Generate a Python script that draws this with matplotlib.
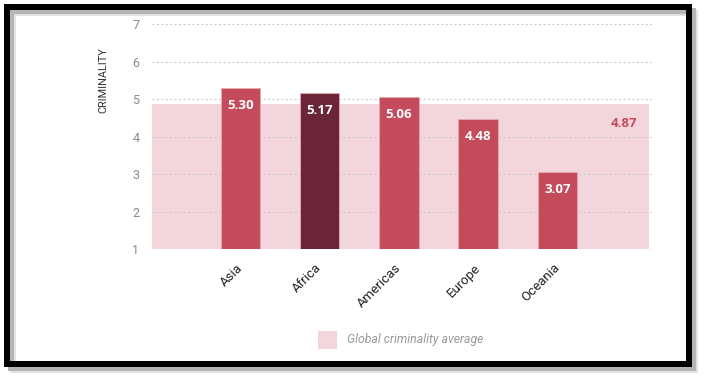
import numpy as np
import matplotlib.pyplot as plt
from matplotlib.patches import Rectangle

# Criminality score by continent
regions = ['Asia', 'Africa', 'Americas', 'Europe', 'Oceania']
criminality = [5.30, 5.17, 5.06, 4.48, 3.07]
global_avg = 4.87
highlight = 'Africa'

W, H = 705, 380
fig = plt.figure(figsize=(W / 100, H / 100), dpi=100)
fig.patch.set_facecolor('white')

# axes placed in pixel terms of the reference
ax = fig.add_axes([151.7 / W, 1 - 249.3 / H, 500 / W, 225.3 / H])
ax.set_facecolor('white')

x = np.arange(len(regions))
colors = ['#6b2539' if r == highlight else '#c44b5b' for r in regions]

ax.set_xlim(-1.12, 5.19)
ax.set_ylim(1, 7)

# global average band
ax.axhspan(1, global_avg, xmin=0, xmax=0.995, color='#f3d6db', zorder=0, lw=0)

for yv in range(1, 8):
    ax.axhline(yv, color='#c8c8c8', lw=0.8, dashes=(1.8, 2.2), zorder=1)

ax.bar(x, criminality, width=0.5, color=colors, edgecolor='#e9a9b3',
       linewidth=0.6, zorder=2)

for xi, v in zip(x, criminality):
    ax.text(xi, v - 0.48, f'{v:.2f}', ha='center', va='center', color='white',
            fontsize=9.5, fontweight='bold', family='Open Sans', zorder=3)

ax.text(4.84, global_avg - 0.53, f'{global_avg:.2f}', ha='center', va='center',
        color='#c44b5b', fontsize=9.5, fontweight='bold', family='Open Sans')

for s in ax.spines.values():
    s.set_visible(False)

ax.set_yticks(range(1, 8))
ax.set_yticklabels([str(t) for t in range(1, 8)], color='#8a8a8a',
                   fontsize=9, family='Roboto')
ax.set_xticks(x)
ax.set_xticklabels(regions, rotation=45, ha='right', va='center',
                   rotation_mode='anchor', color='#222222', fontsize=9.5,
                   family='Roboto')
ax.tick_params(axis='both', length=0)
ax.tick_params(axis='y', pad=9)
ax.tick_params(axis='x', pad=12)

fig.text(103.3 / W, 1 - 80 / H, 'CRIMINALITY', rotation=90, ha='center',
         va='center', color='#333333', fontsize=7.8, family='Roboto')

# legend
fig.add_artist(Rectangle((318 / W, 1 - 348.7 / H), 18.7 / W, 18 / H,
                         transform=fig.transFigure, color='#f3d6db', lw=0))
fig.text(347 / W, 1 - 340 / H, 'Global criminality average', ha='left',
         va='center', color='#9a9a9a', fontsize=8.8, style='italic',
         family='Roboto')

# picture frame with soft shadow
for off, col in [(6, '#e2e2e2'), (4, '#b5b5b5')]:
    fig.add_artist(Rectangle(((7 + off) / W, 1 - (364 + off) / H),
                             682 / W, 357 / H, transform=fig.transFigure,
                             fill=False, ec=col, lw=6 * 0.72))
fig.add_artist(Rectangle((7 / W, 1 - 364 / H), 682 / W, 357 / H,
                         transform=fig.transFigure, fill=False, ec='black',
                         lw=6 * 0.72))

fig.savefig('out.png', dpi=100)
